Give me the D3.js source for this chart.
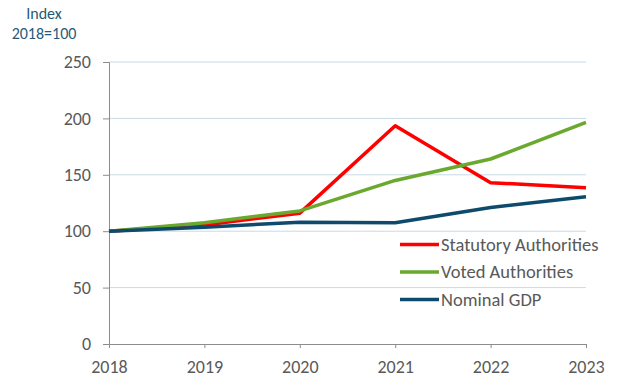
<!DOCTYPE html>
<html>
<head>
<meta charset="utf-8">
<script src="https://cdn.jsdelivr.net/npm/d3@7"></script>
<style>
  body { margin: 0; background: #fff; }
  text { font-family: Carlito, "Liberation Sans", "Open Sans", sans-serif; }
</style>
</head>
<body>
<svg id="chart" width="624" height="387"></svg>
<script>
const years = [2018, 2019, 2020, 2021, 2022, 2023];
const statutory = [100, 105.5, 116, 193.5, 143, 138.5];
const voted = [100, 107.5, 118, 145, 164, 196.5];
const gdp = [100, 103.5, 108, 107.5, 121, 130.5];
const yTicks = [0, 50, 100, 150, 200, 250];

const series = [
  { name: "Statutory Authorities", values: statutory, color: "#ff0000" },
  { name: "Voted Authorities", values: voted, color: "#6aa82e" },
  { name: "Nominal GDP", values: gdp, color: "#0d4a6b" }
];

const svg = d3.select("#chart");
const plotLeft = 109, plotRight = 586, plotTop = 62, plotBottom = 344;

const x = d3.scaleLinear().domain([2018, 2023]).range([plotLeft, plotRight]);
const y = d3.scaleLinear().domain([0, 250]).range([plotBottom, plotTop]);

// gridlines
svg.append("g").selectAll("line").data(yTicks.filter(d => d > 0)).join("line")
  .attr("x1", plotLeft).attr("x2", plotRight)
  .attr("y1", d => y(d)).attr("y2", d => y(d))
  .attr("stroke", "#c8dae6").attr("stroke-width", 1);

// y axis
const yAxis = svg.append("g").attr("transform", `translate(${plotLeft},0)`)
  .call(d3.axisLeft(y).tickValues(yTicks).tickSize(6).tickPadding(12));
yAxis.select(".domain").attr("stroke", "#8c8c8c");
yAxis.selectAll(".tick line").attr("stroke", "#8c8c8c");
yAxis.selectAll(".tick text").attr("fill", "#595959").style("font-size", "18px");

// x axis
const xAxis = svg.append("g").attr("transform", `translate(0,${plotBottom})`)
  .call(d3.axisBottom(x).tickValues(years).tickFormat(d3.format("d")).tickSize(4).tickPadding(12));
xAxis.select(".domain").attr("stroke", "#8c8c8c");
xAxis.selectAll(".tick line").attr("stroke", "#8c8c8c");
xAxis.selectAll(".tick text").attr("fill", "#595959").style("font-size", "18px");

// lines
const line = d3.line().x((d, i) => x(years[i])).y(d => y(d));
svg.append("g").selectAll("path").data(series).join("path")
  .attr("d", d => line(d.values))
  .attr("fill", "none")
  .attr("stroke", d => d.color)
  .attr("stroke-width", 3.5)
  .attr("stroke-linejoin", "round");

// legend
const legend = svg.append("g").selectAll("g").data(series).join("g")
  .attr("transform", (d, i) => `translate(400,${244.5 + i * 27.5})`);
legend.append("line").attr("x1", 0).attr("x2", 39).attr("y1", 0).attr("y2", 0)
  .attr("stroke", d => d.color).attr("stroke-width", 3.5);
legend.append("text").attr("x", 41).attr("y", 0).attr("dy", "0.35em")
  .attr("fill", "#595959").style("font-size", "18.5px").text(d => d.name);

// axis title
svg.append("text").attr("x", 44).attr("y", 19).attr("text-anchor", "middle")
  .attr("fill", "#1f5b7a").style("font-size", "16px").text("Index");
svg.append("text").attr("x", 44).attr("y", 39).attr("text-anchor", "middle")
  .attr("fill", "#1f5b7a").style("font-size", "16px").text("2018=100");
</script>
</body>
</html>
